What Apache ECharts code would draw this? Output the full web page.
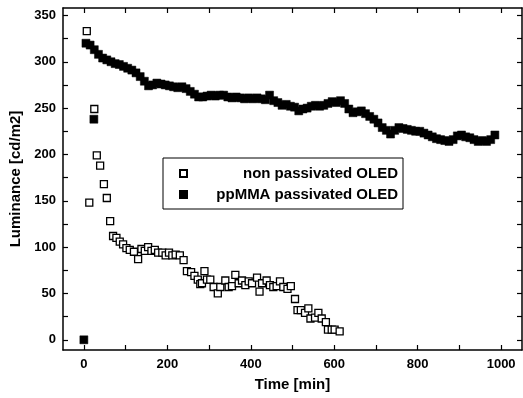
<!DOCTYPE html>
<html><head><meta charset="utf-8">
<script src="https://cdn.jsdelivr.net/npm/echarts@6/dist/echarts.min.js"></script>
<style>html,body{margin:0;padding:0;background:#fff}#c{width:523px;height:398px}</style>
</head><body><div id="c"></div>
<script>
const seriesNames = ['non passivated OLED', 'ppMMA passivated OLED'];
const xTickLabels = [0, 200, 400, 600, 800, 1000];
const yTickLabels = [0, 50, 100, 150, 200, 250, 300, 350];
const xTicks = [0, 100, 200, 300, 400, 500, 600, 700, 800, 900, 1000];
const yTicks = [0, 25, 50, 75, 100, 125, 150, 175, 200, 225, 250, 275, 300, 325, 350];

const openTime = [7,13,25,31,39,48,55,63,70,78,86,94,102,110,120,130,138,146,154,162,170,178,188,196,204,212,220,230,239,247,257,265,273,279,283,289,295,303,311,321,327,339,347,355,363,371,379,387,395,403,415,421,427,438,446,454,462,470,478,488,496,506,512,520,530,538,543,554,562,570,580,585,594,601,613];
const openLum = [333,148,249,199,188,168,153,128,112,110,106,103,99,97,95,87,98,96,100,96,97,94,94,91,94,91,92,91,86,74,73,69,65,60,61,74,65,65,57,50,57,64,57,58,70,61,64,59,63,61,67,52,61,64,59,57,58,63,57,55,58,44,32,32,29,34,23,24,29,23,19,11,11,11,9];

const filledTime = [0,24,5,15,25,35,45,55,65,75,85,95,105,115,125,135,145,155,165,175,185,195,205,215,225,235,245,255,265,275,285,295,305,315,325,335,345,355,365,375,385,395,405,415,425,435,445,455,465,475,485,495,505,515,525,535,545,555,565,575,585,595,605,615,625,635,645,655,665,675,685,695,705,715,725,735,745,755,765,775,785,795,805,815,825,835,845,855,865,875,885,895,905,915,925,935,945,955,965,975,985];
const filledLum = [0,238,320,318,313,308,304,302,300,298,297,295,293,291,288,284,279,274,275,277,276,275,274,273,272,273,271,268,265,262,262,263,264,263,264,264,262,261,262,261,260,261,260,261,260,259,264,258,256,253,254,252,251,247,249,250,252,253,252,253,255,257,256,258,255,249,245,246,247,244,241,238,234,229,226,222,226,229,228,227,226,225,225,223,221,219,217,216,215,214,216,220,221,219,218,216,214,215,214,216,221];

const FONT = '"Liberation Sans", Arial, sans-serif';
const zip = (a, b) => a.map((v, i) => [v, b[i]]);

const chart = echarts.init(document.getElementById('c'), null, {renderer: 'canvas'});
const axisLine = {show: true, onZero: false, lineStyle: {color: '#000', width: 1.5}};
chart.setOption({
  animation: false,
  backgroundColor: '#fff',
  grid: {left: 63, right: 1, top: 8, bottom: 48},
  legend: {
    orient: 'vertical', left: 163, top: 158,
    padding: [8, 5, 7, 16], itemGap: 6, itemWidth: 7, itemHeight: 7,
    borderColor: '#000', borderWidth: 1,
    data: [
      {name: seriesNames[0], icon: 'rect'},
      {name: seriesNames[1], icon: 'rect'}
    ],
    formatter: n => '{r|' + n + '}',
    textStyle: {
      color: '#000', fontFamily: FONT, fontSize: 15, fontWeight: 'bold',
      rich: {r: {width: 206, align: 'right', color: '#000', fontFamily: FONT, fontSize: 15, fontWeight: 'bold'}}
    }
  },
  xAxis: [
    {
      type: 'value', position: 'bottom', min: -50, max: 1050,
      name: 'Time [min]', nameLocation: 'middle', nameGap: 27,
      nameTextStyle: {color: '#000', fontFamily: FONT, fontSize: 15, fontWeight: 'bold'},
      axisLine: axisLine,
      axisTick: {show: true, inside: true, length: 5, customValues: xTicks, lineStyle: {color: '#000', width: 1.2}},
      axisLabel: {show: true, customValues: xTickLabels, formatter: v => String(v), margin: 8, color: '#000', fontFamily: FONT, fontSize: 13, fontWeight: 'bold'},
      splitLine: {show: false}
    },
    {
      type: 'value', position: 'top', min: -50, max: 1050,
      axisLine: axisLine,
      axisTick: {show: true, inside: true, length: 5, customValues: xTicks, lineStyle: {color: '#000', width: 1.2}},
      axisLabel: {show: false},
      splitLine: {show: false}
    }
  ],
  yAxis: [
    {
      type: 'value', position: 'left', min: -11, max: 358,
      name: 'Luminance [cd/m2]', nameLocation: 'middle', nameGap: 40,
      nameTextStyle: {color: '#000', fontFamily: FONT, fontSize: 15, fontWeight: 'bold'},
      axisLine: axisLine,
      axisTick: {show: true, inside: true, length: 5, customValues: yTicks, lineStyle: {color: '#000', width: 1.2}},
      axisLabel: {show: true, customValues: yTickLabels, formatter: v => String(v), margin: 7, color: '#000', fontFamily: FONT, fontSize: 13, fontWeight: 'bold'},
      splitLine: {show: false}
    },
    {
      type: 'value', position: 'right', min: -11, max: 358,
      axisLine: axisLine,
      axisTick: {show: true, inside: true, length: 5, customValues: yTicks, lineStyle: {color: '#000', width: 1.2}},
      axisLabel: {show: false},
      splitLine: {show: false}
    }
  ],
  series: [
    {
      name: seriesNames[0], type: 'scatter', xAxisIndex: 0, yAxisIndex: 0,
      symbol: 'rect', symbolSize: 7,
      itemStyle: {color: '#fff', borderColor: '#000', borderWidth: 1.3, opacity: 1},
      data: zip(openTime, openLum), z: 2
    },
    {
      name: seriesNames[1], type: 'scatter', xAxisIndex: 0, yAxisIndex: 0,
      symbol: 'rect', symbolSize: 8,
      itemStyle: {color: '#000', borderColor: '#000', borderWidth: 0.5, opacity: 1},
      data: zip(filledTime, filledLum), z: 3
    }
  ]
});
</script></body></html>
